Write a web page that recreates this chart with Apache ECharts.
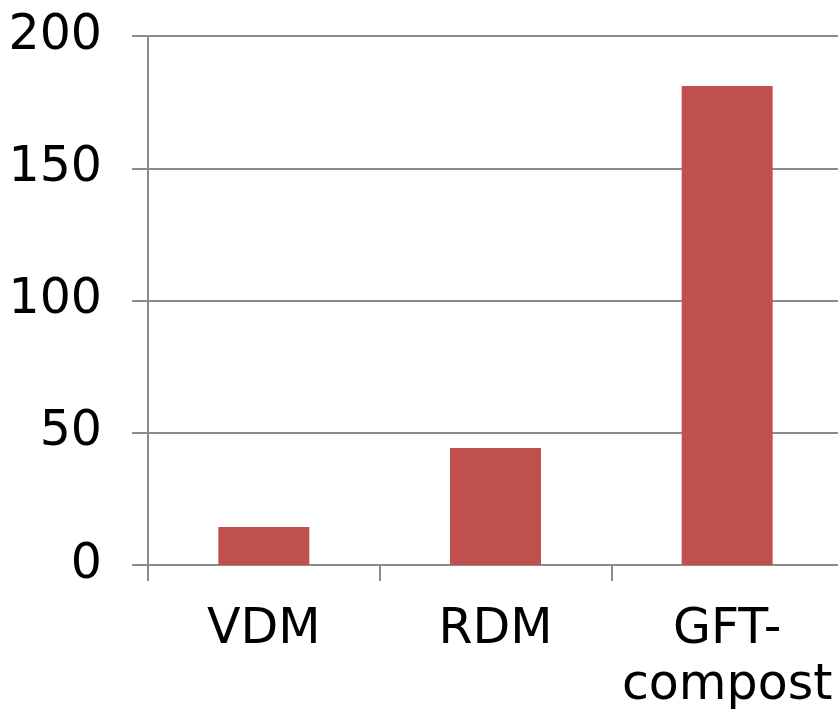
<!DOCTYPE html>
<html>
<head>
<meta charset="utf-8">
<script src="https://cdn.jsdelivr.net/npm/echarts@6/dist/echarts.min.js"></script>
<style>html,body{margin:0;padding:0;background:#fff;}#c{width:838px;height:712px;}</style>
</head>
<body>
<div id="c"></div>
<script>
const categories = ['VDM', 'RDM', 'GFT-\ncompost'];
const values = [14.4, 44.2, 181.1];
const yTicks = { min: 0, max: 200, interval: 50 };

const chart = echarts.init(document.getElementById('c'));
const lineColor = '#8c8c8c';
chart.setOption({
  animation: false,
  grid: { left: 148, top: 36, width: 695, height: 529, containLabel: false, outerBoundsMode: 'none' },
  xAxis: {
    type: 'category',
    data: categories,
    axisLine: { show: true, lineStyle: { color: lineColor, width: 2 } },
    axisTick: { show: true, length: 16, lineStyle: { color: lineColor, width: 2 } },
    axisLabel: { color: '#000', fontFamily: 'DejaVu Sans', fontSize: 49, margin: 37, lineHeight: 56, interval: 0 }
  },
  yAxis: {
    type: 'value',
    min: yTicks.min, max: yTicks.max, interval: yTicks.interval,
    axisLine: { show: true, lineStyle: { color: lineColor, width: 2 } },
    axisTick: { show: true, length: 16, lineStyle: { color: lineColor, width: 2 } },
    splitLine: { show: true, lineStyle: { color: lineColor, width: 2 } },
    axisLabel: { color: '#000', fontFamily: 'DejaVu Sans', fontSize: 49, margin: 46 }
  },
  series: [{
    type: 'bar',
    data: values,
    barWidth: 91,
    itemStyle: { color: '#C0504D' }
  }]
});
</script>
</body>
</html>
